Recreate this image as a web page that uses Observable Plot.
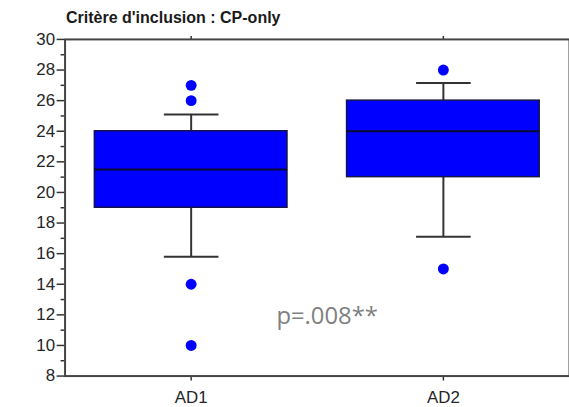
<!DOCTYPE html>
<html>
<head>
<meta charset="utf-8">
<script src="https://cdn.jsdelivr.net/npm/d3@7"></script>
<script src="https://cdn.jsdelivr.net/npm/@observablehq/plot@0.6"></script>
<style>
  html, body { margin: 0; padding: 0; background: #fff; overflow: hidden; width: 569px; height: 407px; }
  #title { height: 30px; box-sizing: border-box; padding-left: 66px; padding-top: 9px;
    font-family: "Liberation Sans", Arial, sans-serif; font-weight: bold; font-size: 16px; line-height: 18px; color: #1a1a1a; white-space: nowrap; }
  #chart svg { display: block; overflow: visible; }
</style>
</head>
<body>
<div id="title">Critère d'inclusion : CP-only</div>
<div id="chart"></div>
<script>
const categories = ["AD1", "AD2"];
const q1 = [19, 21];
const median = [21.5, 24];
const q3 = [24, 26];
const whiskerLow = [15.8, 17.1];
const whiskerHigh = [25.1, 27.15];
const outlierGroup = ["AD1", "AD1", "AD1", "AD1", "AD2", "AD2"];
const outlierValue = [27, 26, 14, 10, 28, 15];
const yMajorTicks = [8, 10, 12, 14, 16, 18, 20, 22, 24, 26, 28, 30];
const yMinorTicks = [9, 11, 13, 15, 17, 19, 21, 23, 25, 27, 29];
const annotationText = ["p=.008**"];
const annotationY = [11.9];

const boxes = categories.map((c, i) => ({cat: c, q1: q1[i], med: median[i], q3: q3[i], lo: whiskerLow[i], hi: whiskerHigh[i]}));
const outliers = outlierGroup.map((c, i) => ({cat: c, v: outlierValue[i]}));
const annotation = annotationText.map((t, i) => ({label: t, y: annotationY[i]}));

const fontFamily = '"Liberation Sans", Arial, sans-serif';

const chart = Plot.plot({
  width: 573,
  height: 377,
  marginTop: 9,
  marginBottom: 29,
  marginLeft: 65,
  marginRight: 0,
  style: {fontFamily, fontSize: "17px", color: "#262626", background: "transparent"},
  x: {type: "band", domain: categories, paddingInner: 0, paddingOuter: 0, label: null},
  y: {domain: [8, 30], label: null},
  marks: [
    Plot.axisY(yMajorTicks, {tickSize: 8, tickPadding: 2, stroke: "#333", strokeWidth: 1.5, fill: "#262626", fontSize: 17}),
    Plot.axisY(yMinorTicks, {tickSize: 4, text: null, stroke: "#333", strokeWidth: 1.5}),
    Plot.axisX({anchor: "bottom", tickSize: 5, tickPadding: 10, stroke: "#333", strokeWidth: 1.5, fill: "#262626", fontSize: 17}),
    Plot.axisX({anchor: "top", tickSize: 4, text: null, stroke: "#333", strokeWidth: 1.5}),
    Plot.frame({stroke: "#444", strokeWidth: 2}),
    Plot.ruleX(boxes, {x: "cat", y1: "q3", y2: "hi", stroke: "#333", strokeWidth: 2}),
    Plot.ruleX(boxes, {x: "cat", y1: "lo", y2: "q1", stroke: "#333", strokeWidth: 2}),
    Plot.tickY(boxes, {x: "cat", y: "hi", stroke: "#333", strokeWidth: 2, insetLeft: 100, insetRight: 99}),
    Plot.tickY(boxes, {x: "cat", y: "lo", stroke: "#333", strokeWidth: 2, insetLeft: 100, insetRight: 99}),
    Plot.barY(boxes, {x: "cat", y1: "q1", y2: "q3", fill: "#0000ff", stroke: "#15154a", strokeWidth: 1.5, insetLeft: 30, insetRight: 30}),
    Plot.tickY(boxes, {x: "cat", y: "med", stroke: "#0a0a30", strokeWidth: 2, insetLeft: 30, insetRight: 30}),
    Plot.dot(outliers, {x: "cat", y: "v", r: 5.5, fill: "#0000ff", stroke: "none"}),
    Plot.text(annotation, {y: "y", text: "label", frameAnchor: "middle", dx: 10, fill: "#808080", fontSize: 24, fontFamily: '"Open Sans", sans-serif'})
  ]
});
document.getElementById("chart").appendChild(chart);
</script>
</body>
</html>
